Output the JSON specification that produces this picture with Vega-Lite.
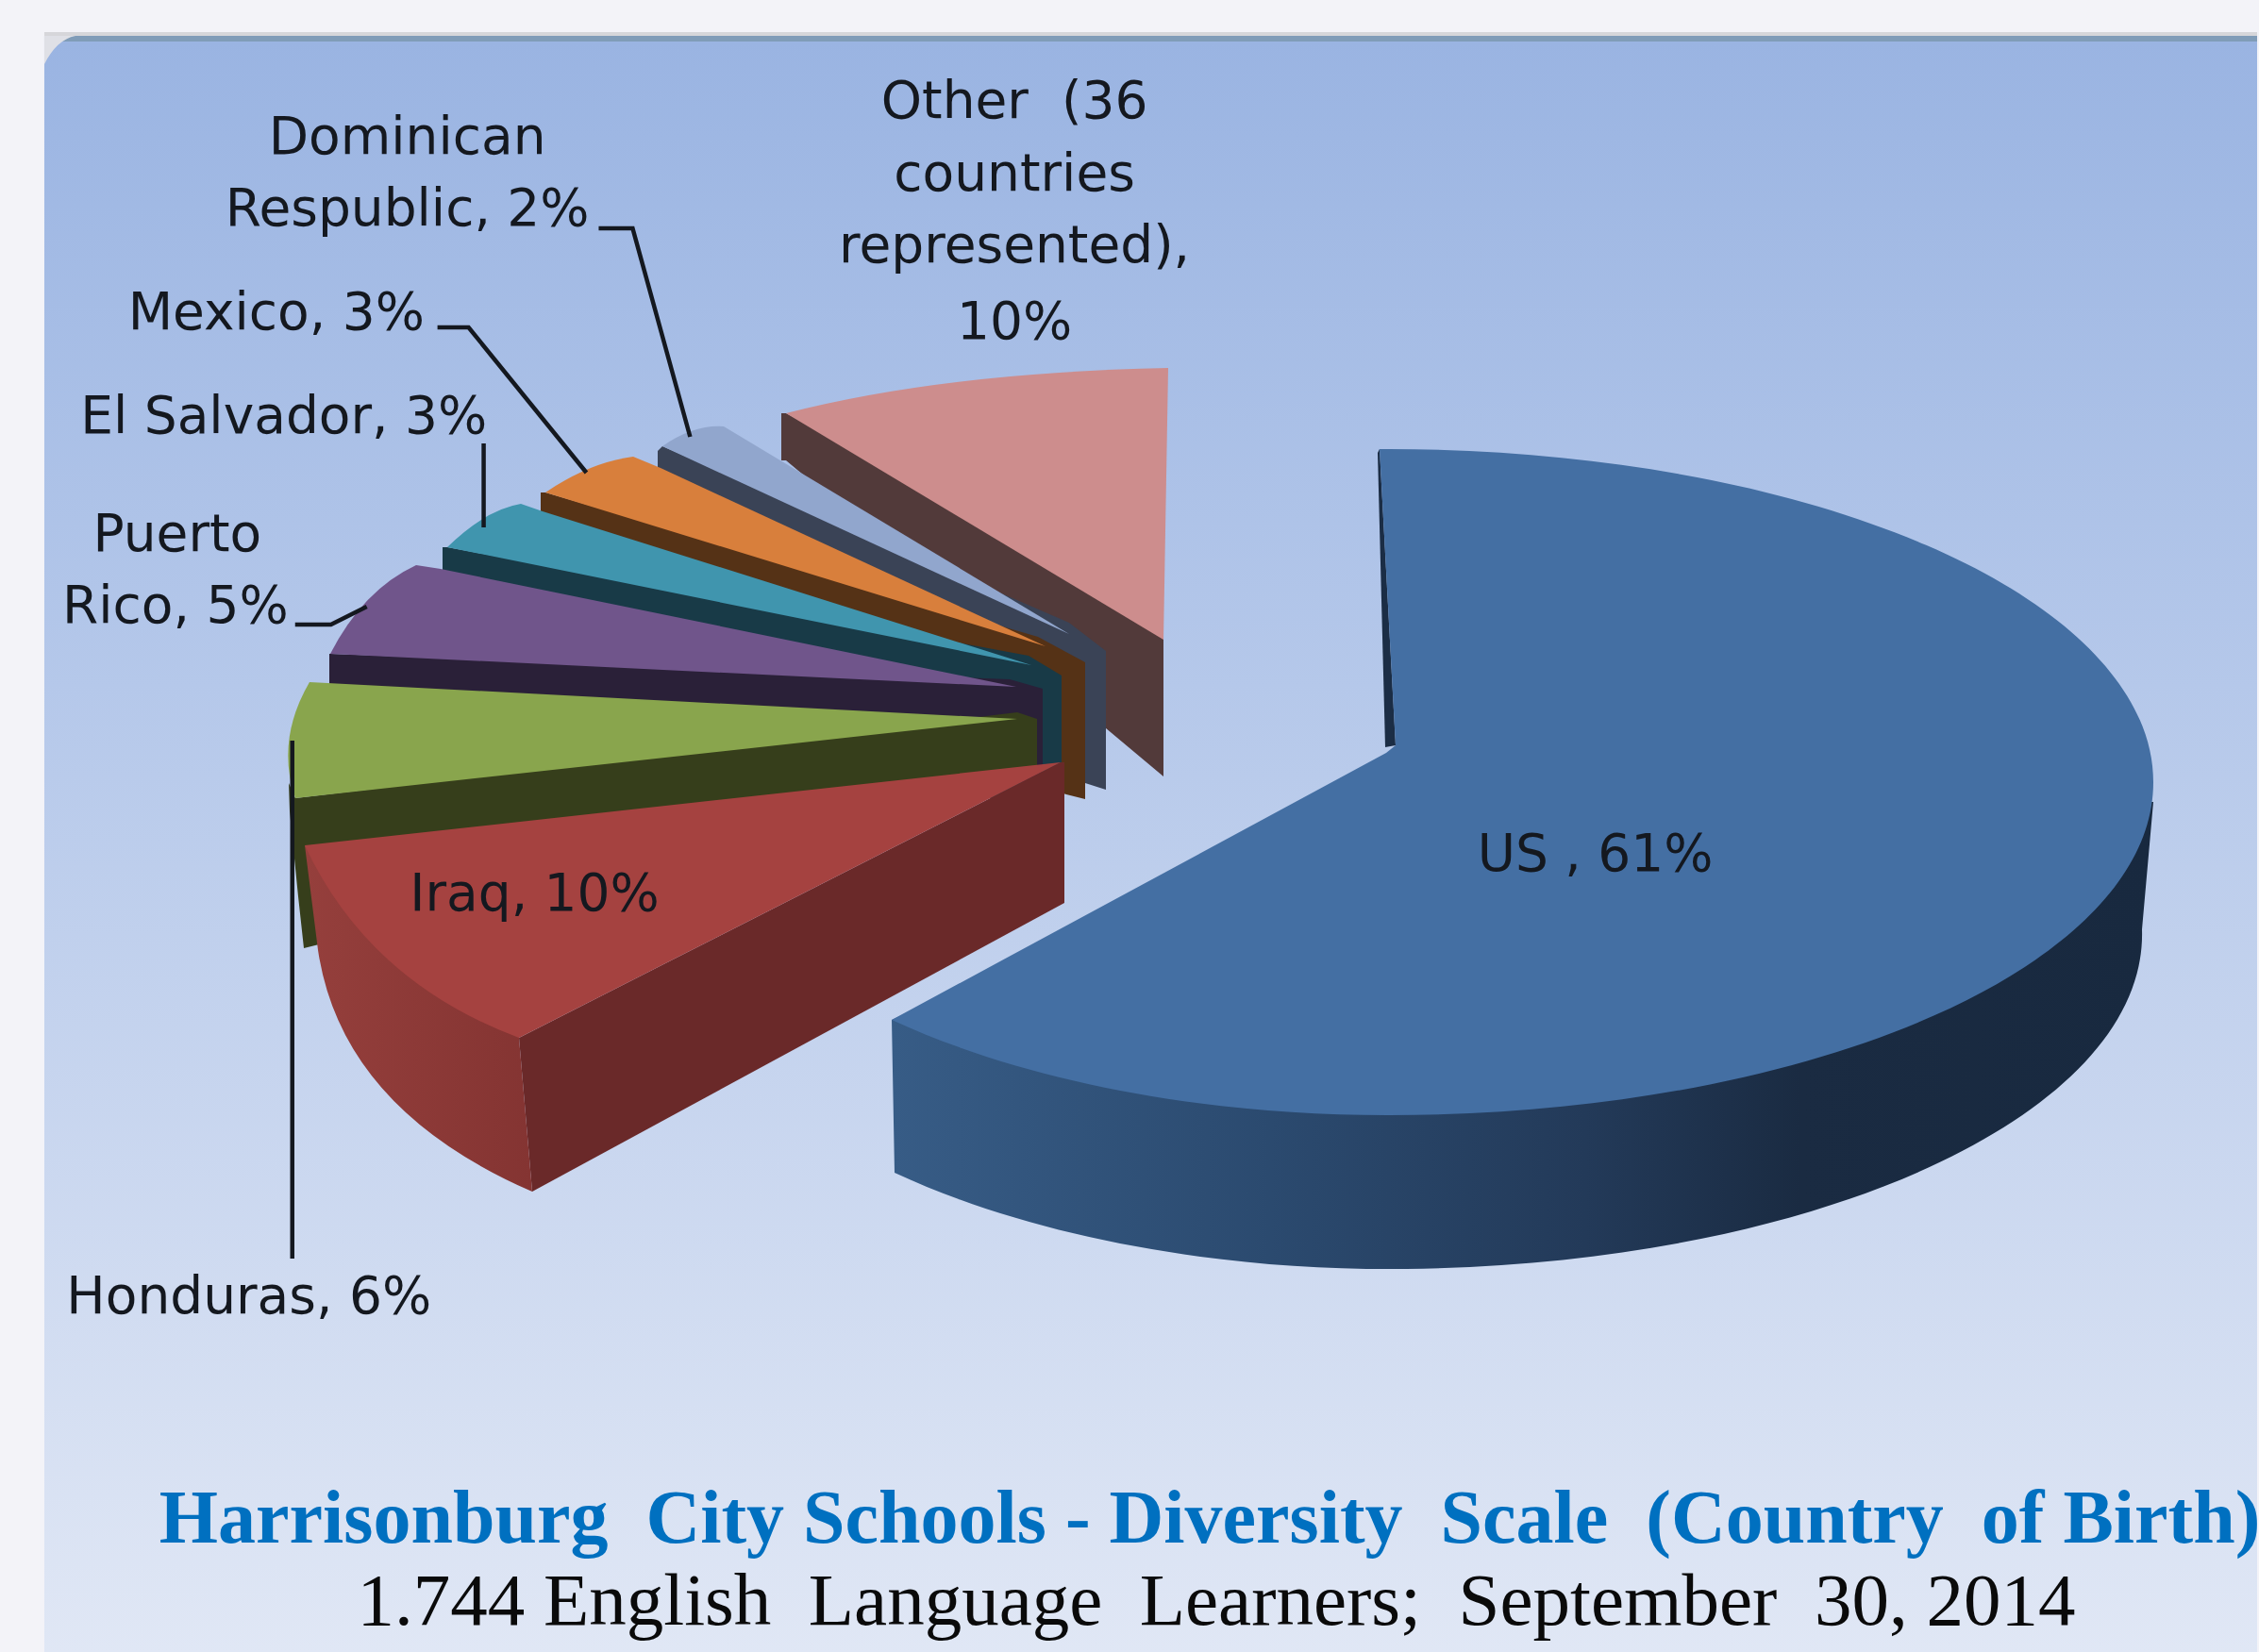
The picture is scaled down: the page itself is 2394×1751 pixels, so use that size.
{"$schema":"https://vega.github.io/schema/vega-lite/v6.json","width":2394,"height":1751,"autosize":{"type":"fit","contains":"padding"},"padding":0,"background":"#f3f3f8","view":{"stroke":null},"datasets":{"frame":[{"x":47,"x2":2394,"y":44,"y2":1751,"band":"panel"},{"x":47,"x2":2394,"y":34,"y2":38,"band":"shade"},{"x":47,"x2":2394,"y":38,"y2":44,"band":"edge"}],"faces":[{"face":"corner","part":"frame"},{"face":"Other side","country":"Other","share":10,"part":"flat"},{"face":"Other top","country":"Other","share":10,"part":"flat"},{"face":"Dominican side","country":"Dominican Respublic","share":2,"part":"flat"},{"face":"Dominican top","country":"Dominican Respublic","share":2,"part":"flat"},{"face":"Mexico side","country":"Mexico","share":3,"part":"flat"},{"face":"Mexico top","country":"Mexico","share":3,"part":"flat"},{"face":"El Salvador side","country":"El Salvador","share":3,"part":"flat"},{"face":"El Salvador top","country":"El Salvador","share":3,"part":"flat"},{"face":"Puerto Rico side","country":"Puerto Rico","share":5,"part":"flat"},{"face":"Puerto Rico top","country":"Puerto Rico","share":5,"part":"flat"},{"face":"Honduras side","country":"Honduras","share":6,"part":"flat"},{"face":"Honduras top","country":"Honduras","share":6,"part":"flat"},{"face":"Iraq cut","country":"Iraq","share":10,"part":"flat"},{"face":"US notch","country":"US","share":61,"part":"flat"},{"face":"Iraq rim","country":"Iraq","share":10,"part":"iraqrim"},{"face":"Iraq top","country":"Iraq","share":10,"part":"iraqtop"},{"face":"US rim","country":"US","share":61,"part":"usrim"},{"face":"US top","country":"US","share":61,"part":"ustop"}],"leaders":[{"label":"Dominican","i":1,"x":635,"y":242},{"label":"Dominican","i":2,"x":671,"y":242},{"label":"Dominican","i":3,"x":732,"y":463},{"label":"Mexico","i":1,"x":464,"y":347},{"label":"Mexico","i":2,"x":497,"y":347},{"label":"Mexico","i":3,"x":622,"y":501},{"label":"El Salvador","i":1,"x":513,"y":470},{"label":"El Salvador","i":2,"x":513,"y":559},{"label":"Puerto Rico","i":1,"x":313,"y":662},{"label":"Puerto Rico","i":2,"x":351,"y":662},{"label":"Puerto Rico","i":3,"x":389,"y":643},{"label":"Honduras","i":1,"x":310,"y":785},{"label":"Honduras","i":2,"x":310,"y":1334}],"labels":[{"text":"Dominican","x":432,"y":163},{"text":"Respublic, 2%","x":432,"y":239},{"text":"Mexico, 3%","x":293,"y":349},{"text":"El Salvador, 3%","x":301,"y":459},{"text":"Puerto","x":188,"y":584},{"text":"Rico, 5%","x":186,"y":660},{"text":"Honduras, 6%","x":264,"y":1392},{"text":"Iraq, 10%","x":567,"y":965},{"text":"US , 61%","x":1692,"y":923},{"text":"Other \u00a0(36","x":1076,"y":125},{"text":"countries","x":1076,"y":202},{"text":"represented),","x":1076,"y":278},{"text":"10%","x":1076,"y":359}]},"layer":[{"data":{"name":"frame"},"transform":[{"filter":"datum.band==='shade'"}],"mark":{"type":"rect","fill":"#d6d6da"},"encoding":{"x":{"field":"x","type":"quantitative","scale":{"domain":[0,2394],"nice":false},"axis":null},"x2":{"field":"x2"},"y":{"field":"y","type":"quantitative","scale":{"domain":[1751,0],"nice":false},"axis":null},"y2":{"field":"y2"}}},{"data":{"name":"frame"},"transform":[{"filter":"datum.band==='edge'"}],"mark":{"type":"rect","fill":"#809cb8"},"encoding":{"x":{"field":"x","type":"quantitative","axis":null},"x2":{"field":"x2"},"y":{"field":"y","type":"quantitative","axis":null},"y2":{"field":"y2"}}},{"data":{"name":"frame"},"transform":[{"filter":"datum.band==='panel'"}],"mark":{"type":"rect","fill":{"gradient":"linear","x1":0,"y1":0,"x2":0,"y2":1,"stops":[{"offset":0,"color":"#9ab4e2"},{"offset":0.4,"color":"#b5c8ea"},{"offset":1,"color":"#e0e7f5"}]}},"encoding":{"x":{"field":"x","type":"quantitative","axis":null},"x2":{"field":"x2"},"y":{"field":"y","type":"quantitative","axis":null},"y2":{"field":"y2"}}},{"data":{"name":"faces"},"encoding":{"x":{"datum":0,"type":"quantitative","axis":null},"y":{"datum":0,"type":"quantitative","axis":null},"size":{"value":4},"shape":{"field":"face","type":"nominal","legend":null,"scale":{"domain":["corner","Other side","Other top","Dominican side","Dominican top","Mexico side","Mexico top","El Salvador side","El Salvador top","Puerto Rico side","Puerto Rico top","Honduras side","Honduras top","Iraq cut","US notch","Iraq rim","Iraq top","US rim","US top"],"range":["M47,38L80,38Q60,42 47,68Z","M828,438L833,438L1233,650L1233,823L833,488L828,488Z","M833,438Q1000,395 1238,390L1233,678Z","M697,478L702,473L1133,660L1172,690L1172,837L1150,830L697,625Z","M702,473Q735,450 767,452L782,461L1133,672Z","M573,522L578,522L1100,675L1150,702L1150,847L1130,842L573,670Z","M578,522Q625,490 671,484L700,496L1108,685Z","M469,580L474,580L1090,695L1125,716L1125,860L1108,858L469,725Z","M474,580Q515,540 552,534L575,542L1093,705Z","M349,693L350,693L1070,720L1105,730L1105,830L349,800Z","M350,693Q385,625 441,599L467,603L1077,728Z","M1078,755L1099,762L1099,812L322,1005L316,950L307,860L306,830L313,846Z","M328,723Q292,785 313,846L1078,762Z","M1124,808L550,1100L564,1263L1128,957L1128,808Z","M1460,480L1468,792L1479,790L1462,476Z","M323,896L560,1000L550,1100L564,1263Q362,1175 337,1007Z","M323,896Q390,1040 550,1100L1124,808Z","M945,1081L948,1243A750,355 0 0 0 1490,1345A800,355 0 0 0 2270,985L2282,850L1472,829Z","M1479,790L1462,476A810,353 0 0 1 2282,829A810,353 0 0 1 1472,1182A750,353 0 0 1 945,1081L1469,798Z"]}}},"layer":[{"transform":[{"filter":"datum.part==='frame'||datum.part==='flat'"}],"mark":{"type":"point","filled":true,"opacity":1,"strokeWidth":0},"encoding":{"color":{"field":"face","type":"nominal","legend":null,"scale":{"domain":["corner","Other side","Other top","Dominican side","Dominican top","Mexico side","Mexico top","El Salvador side","El Salvador top","Puerto Rico side","Puerto Rico top","Honduras side","Honduras top","Iraq cut","US notch"],"range":["#dfe0e6","#523a3a","#cd8d8d","#3a4356","#91a6cd","#553216","#d87f3c","#183a47","#4095ae","#2a2038","#70558b","#363e1b","#89a54d","#6a2929","#1b2d45"]}}}},{"transform":[{"filter":"datum.part==='iraqrim'"}],"mark":{"type":"point","filled":true,"opacity":1,"strokeWidth":0,"fill":{"gradient":"linear","x1":0,"y1":0,"x2":1,"y2":0,"stops":[{"offset":0,"color":"#953f3c"},{"offset":1,"color":"#843432"}]}}},{"transform":[{"filter":"datum.part==='iraqtop'"}],"mark":{"type":"point","filled":true,"opacity":1,"strokeWidth":0,"fill":"#a54240"}},{"transform":[{"filter":"datum.part==='usrim'"}],"mark":{"type":"point","filled":true,"opacity":1,"strokeWidth":0,"fill":{"gradient":"linear","x1":0,"y1":0,"x2":1,"y2":0,"stops":[{"offset":0,"color":"#375c86"},{"offset":0.3,"color":"#2b4a6f"},{"offset":0.55,"color":"#233a59"},{"offset":0.72,"color":"#1a2b42"},{"offset":1,"color":"#18293f"}]}}},{"transform":[{"filter":"datum.part==='ustop'"}],"mark":{"type":"point","filled":true,"opacity":1,"strokeWidth":0,"fill":"#446fa3"}}]},{"data":{"name":"leaders"},"mark":{"type":"line","color":"#14181f","strokeWidth":4.5,"strokeJoin":"miter"},"encoding":{"x":{"field":"x","type":"quantitative","axis":null},"y":{"field":"y","type":"quantitative","axis":null},"detail":{"field":"label"},"order":{"field":"i","type":"quantitative"}}},{"data":{"name":"labels"},"mark":{"type":"text","font":"DejaVu Sans","fontSize":55,"align":"center","baseline":"alphabetic","color":"#14181f"},"encoding":{"x":{"field":"x","type":"quantitative","axis":null},"y":{"field":"y","type":"quantitative","axis":null},"text":{"field":"text"}}},{"data":{"values":[{"text":"Harrisonburg \u00a0City Schools - Diversity \u00a0Scale \u00a0(Country \u00a0of Birth)","x":169,"y":1635}]},"mark":{"type":"text","font":"Liberation Serif","fontWeight":"bold","fontSize":80,"align":"left","baseline":"alphabetic","color":"#0070c0"},"encoding":{"x":{"field":"x","type":"quantitative","axis":null},"y":{"field":"y","type":"quantitative","axis":null},"text":{"field":"text"}}},{"data":{"values":[{"text":"1.744 English \u00a0Language \u00a0Learners; \u00a0September \u00a030, 2014","x":1290,"y":1722}]},"mark":{"type":"text","font":"Liberation Serif","fontSize":79,"align":"center","baseline":"alphabetic","color":"#0a0a0a"},"encoding":{"x":{"field":"x","type":"quantitative","axis":null},"y":{"field":"y","type":"quantitative","axis":null},"text":{"field":"text"}}}]}
